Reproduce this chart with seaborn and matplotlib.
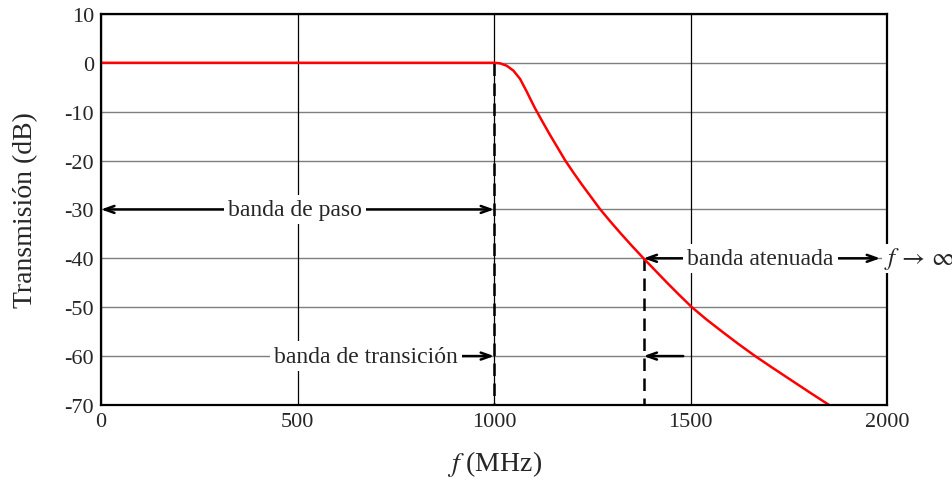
import matplotlib
matplotlib.use("Agg")
import matplotlib.pyplot as plt
import seaborn as sns
import pandas as pd

# Data
freq_mhz = [0, 200, 400, 600, 800, 950, 1000, 1015, 1032, 1049, 1066, 1083, 1094, 1104,
            1113, 1122, 1141, 1161, 1181, 1202, 1224, 1247, 1270, 1296, 1323, 1351, 1380,
            1410, 1440, 1471, 1503, 1540, 1580, 1621, 1664, 1710, 1757, 1804, 1852]
trans_db = [0, 0, 0, 0, 0, 0, 0, -0.1, -0.6, -1.6, -3.3, -5.9, -7.7, -9.3,
            -10.6, -11.9, -14.6, -17.3, -20, -22.5, -25, -27.5, -30, -32.5, -35, -37.5, -40,
            -42.5, -45, -47.5, -50, -52.5, -55, -57.5, -60, -62.5, -65, -67.5, -70]
x_ticks = [0, 500, 1000, 1500, 2000]
y_ticks = [10, 0, -10, -20, -30, -40, -50, -60, -70]
passband_edge = 1000
stopband_edge = 1380

sns.set_style("white")
plt.rcParams['font.family'] = ['Liberation Serif', 'DejaVu Serif']
plt.rcParams['mathtext.fontset'] = 'stix'
plt.rcParams['axes.unicode_minus'] = False

df = pd.DataFrame({"f": freq_mhz, "T": trans_db})

fig = plt.figure(figsize=(9.53, 4.81), dpi=100)
ax = fig.add_axes([0.106, 0.156, 0.825, 0.813])

# grid
for yv in y_ticks:
    ax.axhline(yv, color='#7f7f7f', lw=1.0, zorder=1)
for xv in x_ticks:
    ax.axvline(xv, color='black', lw=0.9, zorder=1)

sns.lineplot(data=df, x="f", y="T", ax=ax, color='#ff0000', lw=1.8, zorder=4,
             estimator=None, sort=False)

# dashed edges
ax.plot([passband_edge, passband_edge], [0, -70], ls=(0, (5, 3)), color='black', lw=1.8, zorder=3)
ax.plot([stopband_edge, stopband_edge], [-40, -70], ls=(0, (5, 3)), color='black', lw=1.8, zorder=3)

ax.set_xlim(0, 2000)
ax.set_ylim(-70, 10)
ax.set_xticks(x_ticks)
ax.set_yticks(y_ticks)
ax.set_xticklabels([str(v) for v in x_ticks])
ax.set_yticklabels([str(v) for v in y_ticks])
ax.tick_params(axis='both', length=0, labelsize=16, pad=5)
for s in ax.spines.values():
    s.set_color('black')
    s.set_linewidth(1.6)
    s.set_zorder(5)

ax.set_xlabel(r"$f$ (MHz)", fontsize=20, labelpad=12)
ax.set_ylabel("Transmisión (dB)", fontsize=20, labelpad=19)

ap = dict(arrowstyle='->,head_length=0.7,head_width=0.25', color='black', lw=1.8,
          shrinkA=0, shrinkB=0)
apd = dict(arrowstyle='<->,head_length=0.7,head_width=0.25', color='black', lw=1.8,
           shrinkA=0, shrinkB=0)
bbox = dict(facecolor='white', edgecolor='none', pad=3)

# banda de paso
ax.annotate("", xy=(0, -30), xytext=(passband_edge, -30), arrowprops=apd, zorder=6)
ax.text(494, -30, "banda de paso", ha='center', va='center', fontsize=17, bbox=bbox, zorder=7)

# banda de transicion
ax.annotate("", xy=(passband_edge, -60), xytext=(674, -60), arrowprops=ap, zorder=6)
ax.text(674, -60, "banda de transición", ha='center', va='center', fontsize=17, bbox=bbox, zorder=7)
ax.annotate("", xy=(stopband_edge, -60), xytext=(1481, -60), arrowprops=ap, zorder=6)

# banda atenuada
ax.annotate("", xy=(stopband_edge, -40), xytext=(1982, -40), arrowprops=apd, zorder=6,
            annotation_clip=False)
ax.text(1677, -40, "banda atenuada", ha='center', va='center', fontsize=17, bbox=bbox, zorder=7)
ax.text(2081, -40, r"$f\,\rightarrow\,\infty$", ha='center', va='center', fontsize=18,
        bbox=dict(facecolor='white', edgecolor='none', pad=1), zorder=8, clip_on=False)

fig.savefig("out.png", dpi=100)
